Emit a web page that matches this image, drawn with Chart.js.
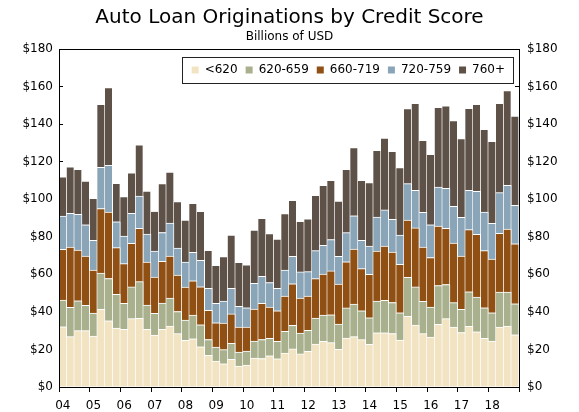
<!DOCTYPE html>
<html>
<head>
<meta charset="utf-8">
<script src="https://cdn.jsdelivr.net/npm/chart.js@4/dist/chart.umd.min.js"></script>
<style>
html,body{margin:0;padding:0;background:#fff;}
#wrap{width:579px;height:412px;}
</style>
</head>
<body>
<div id="wrap"><canvas id="c" width="579" height="412"></canvas></div>
<script>
// ---- data (billions of USD, quarterly 2004Q1 - 2018Q4) ----
const yearLabels = ['04','05','06','07','08','09','10','11','12','13','14','15','16','17','18'];
const quarters = ['Q1','Q2','Q3','Q4'];
const categories = yearLabels.flatMap(y => quarters.map(q => y + ' ' + q));
const seriesNames = ['<620','620-659','660-719','720-759','760+'];
const yTicks = [0,20,40,60,80,100,120,140,160,180];

const under620 = [32.1,26.8,30.0,30.0, 27.1,41.3,35.3,31.4, 30.7,36.4,36.6,30.7, 27.6,30.7,32.4,28.4,
  24.8,25.7,21.4,16.8, 13.8,12.4,14.7,11.1, 11.7,15.4,15.2,16.6, 15.0,18.0,20.3,17.6,
  19.0,22.9,24.3,23.6, 20.0,26.1,26.8,25.2, 22.7,28.9,28.9,28.5, 25.0,37.6,33.0,28.4,
  26.6,33.4,36.4,31.9, 29.0,32.3,29.4,25.9, 24.5,31.9,32.4,27.8];
const s620_659 = [14.2,15.6,15.9,13.5, 12.3,19.4,22.5,17.9, 13.8,16.9,19.5,12.9, 11.6,14.0,14.9,11.8,
  10.8,12.6,11.7,8.5, 7.5,7.5,8.5,7.5, 7.4,9.0,10.1,9.3, 9.3,11.6,12.5,11.1,
  11.2,13.8,14.0,14.9, 13.5,16.0,17.4,15.4, 14.2,16.9,17.2,16.5, 14.5,20.8,20.3,17.2,
  16.0,20.6,18.2,13.0, 12.3,18.4,18.5,16.3, 15.0,18.6,18.1,16.5];
const s660_719 = [27.0,32.1,27.0,26.2, 22.9,34.3,35.4,24.9, 21.2,23.2,28.4,22.9, 19.3,22.2,22.4,19.4,
  17.6,18.3,20.3,15.5, 12.9,14.2,15.7,13.3, 12.8,17.1,19.2,16.7, 16.3,18.8,22.2,18.7,
  18.2,21.0,21.9,23.3, 21.3,24.6,29.3,22.4, 23.1,26.6,29.0,26.9, 25.8,30.5,31.4,28.9,
  26.3,31.7,29.9,31.8, 28.4,33.1,33.4,30.4, 28.6,31.4,33.6,32.0];
const s720_759 = [17.7,18.0,19.0,16.7, 15.8,22.0,24.9,13.8, 14.7,16.0,17.2,14.9, 13.9,15.4,17.6,14.4,
  13.3,15.1,14.0,11.7, 10.3,11.7,13.6,11.0, 10.3,13.7,14.4,13.0, 11.9,13.9,14.6,13.9,
  13.0,14.9,15.3,16.7, 14.8,15.5,17.7,15.1, 15.1,18.1,19.2,17.4, 15.6,19.4,20.0,18.5,
  17.5,20.8,21.3,19.5, 20.6,20.9,22.9,20.6, 19.0,21.6,23.3,20.5];
const s760plus = [20.9,24.8,24.0,23.3, 22.4,33.6,41.4,20.5, 21.0,21.6,27.2,23.0, 21.2,26.0,27.2,24.7,
  22.4,26.1,26.2,20.3, 20.3,23.6,28.4,23.5, 22.9,28.4,30.9,26.1, 26.3,30.0,29.8,26.9,
  28.2,29.5,31.9,31.6, 29.4,33.7,36.3,32.0, 33.7,35.5,38.3,36.2, 35.9,40.0,46.4,38.4,
  37.5,42.5,43.9,45.7, 42.0,43.7,46.4,44.0, 43.7,47.6,50.4,47.5];

const colors = ['#F2E4C2','#A9B08D','#915013','#89A5B7','#5E5248'];
const FONT = 'DejaVu Sans';

const seriesData = [under620, s620_659, s660_719, s720_759, s760plus];
const datasets = seriesData.map((d, i) => ({
  label: seriesNames[i],
  data: d,
  backgroundColor: colors[i],
  borderColor: '#ffffff',
  borderWidth: {top: 1, right: 1, bottom: 0, left: 0},
  borderSkipped: false,
  barPercentage: 1,
  categoryPercentage: 1,
  yAxisID: 'y'
}));

// Legend is laid out by Chart.js at the top but takes no layout height,
// then moved inside the plot area (top-right) and framed.
const legendInside = {
  id: 'legendInside',
  beforeLayout(chart) {
    const lg = chart.legend;
    if (lg && !lg._zeroPatched) {
      const origFit = lg.fit.bind(lg);
      lg.fit = function () {
        origFit();
        this._realHeight = this.height;
        this.height = 0;
      };
      lg._zeroPatched = true;
    }
  },
  afterLayout(chart) {
    const lg = chart.legend, a = chart.chartArea;
    if (!lg) return;
    lg.left = a.left;
    lg.right = a.right - 6;
    lg.width = lg.right - lg.left;
    lg.top = a.top + 7;
    lg.height = lg._realHeight || 20;
    lg.bottom = lg.top + lg.height;
  },
  beforeDraw(chart) {
    const lg = chart.legend;
    if (!lg || !lg.legendHitBoxes || !lg.legendHitBoxes.length) return;
    const hb = lg.legendHitBoxes;
    const l = Math.min(...hb.map(h => h.left)) - 10;
    const r = Math.max(...hb.map(h => h.left + h.width)) + 8;
    const cy = hb[0].top + hb[0].height / 2;
    const ctx = chart.ctx;
    ctx.save();
    ctx.fillStyle = '#fff';
    ctx.strokeStyle = '#222';
    ctx.lineWidth = 1;
    const x0 = Math.round(l) + 0.5, y0 = Math.round(cy - 13) + 0.5, w = Math.round(r - l);
    ctx.fillRect(x0, y0, w, 26);
    ctx.strokeRect(x0, y0, w, 26);
    ctx.restore();
  },
  afterDraw(chart) {
    const a = chart.chartArea, ctx = chart.ctx;
    ctx.save();
    ctx.strokeStyle = '#000';
    ctx.lineWidth = 1;
    ctx.beginPath();
    ctx.moveTo(a.left, Math.round(a.top) + 0.5);
    ctx.lineTo(a.right + 1, Math.round(a.top) + 0.5);
    ctx.stroke();
    ctx.restore();
  }
};

const yTickCb = v => '$' + v;

new Chart(document.getElementById('c'), {
  type: 'bar',
  data: { labels: categories, datasets },
  options: {
    responsive: false,
    animation: false,
    devicePixelRatio: 1,
    layout: { padding: 0 },
    plugins: {
      title: {
        display: true,
        text: 'Auto Loan Originations by Credit Score',
        color: '#000',
        font: { family: FONT, size: 20, weight: 'normal' },
        padding: { top: 6, bottom: 0 }
      },
      subtitle: {
        display: true,
        text: 'Billions of USD',
        color: '#000',
        font: { family: FONT, size: 12 },
        padding: { top: 0, bottom: 4.6 }
      },
      legend: {
        position: 'top',
        align: 'end',
        labels: {
          boxWidth: 7,
          boxHeight: 7,
          padding: 8,
          color: '#000',
          font: { family: FONT, size: 12 },
          generateLabels(chart) {
            return Chart.defaults.plugins.legend.labels.generateLabels(chart)
              .map(l => Object.assign(l, { lineWidth: 0, strokeStyle: 'rgba(0,0,0,0)' }));
          }
        }
      },
      tooltip: { enabled: false }
    },
    scales: {
      x: {
        stacked: true,
        offset: true,
        afterFit(s) { s.height = 25; },
        border: { display: true, color: '#000', width: 1, z: 1 },
        grid: {
          offset: true,
          drawOnChartArea: false,
          drawTicks: true,
          tickLength: 5,
          tickColor: ctx => (ctx.index === undefined || ctx.index % 4 === 0) ? '#000' : 'rgba(0,0,0,0)'
        },
        ticks: {
          autoSkip: false,
          maxRotation: 0,
          minRotation: 0,
          padding: 7,
          color: '#000',
          font: { family: FONT, size: 12 },
          callback: (v, i) => (i % 4 === 0 ? yearLabels[i / 4] : '')
        }
      },
      y: {
        stacked: true,
        position: 'left',
        min: 0, max: 180,
        afterFit(s) { s.width = 59; },
        afterBuildTicks(s) { s.ticks = yTicks.map(v => ({ value: v })); },
        border: { display: true, color: '#000', width: 1, z: 1 },
        grid: { drawOnChartArea: false, drawTicks: true, tickLength: -4, tickColor: '#000' },
        ticks: { padding: 10, color: '#000', font: { family: FONT, size: 12 }, callback: yTickCb }
      },
      y2: {
        position: 'right',
        min: 0, max: 180,
        afterFit(s) { s.width = 60; },
        afterBuildTicks(s) { s.ticks = yTicks.map(v => ({ value: v })); },
        border: { display: true, color: '#000', width: 1, z: 1 },
        grid: { drawOnChartArea: false, drawTicks: true, tickLength: -4, tickColor: '#000' },
        ticks: { padding: 12, color: '#000', font: { family: FONT, size: 12 }, callback: yTickCb }
      }
    }
  },
  plugins: [legendInside]
});
</script>
</body>
</html>
